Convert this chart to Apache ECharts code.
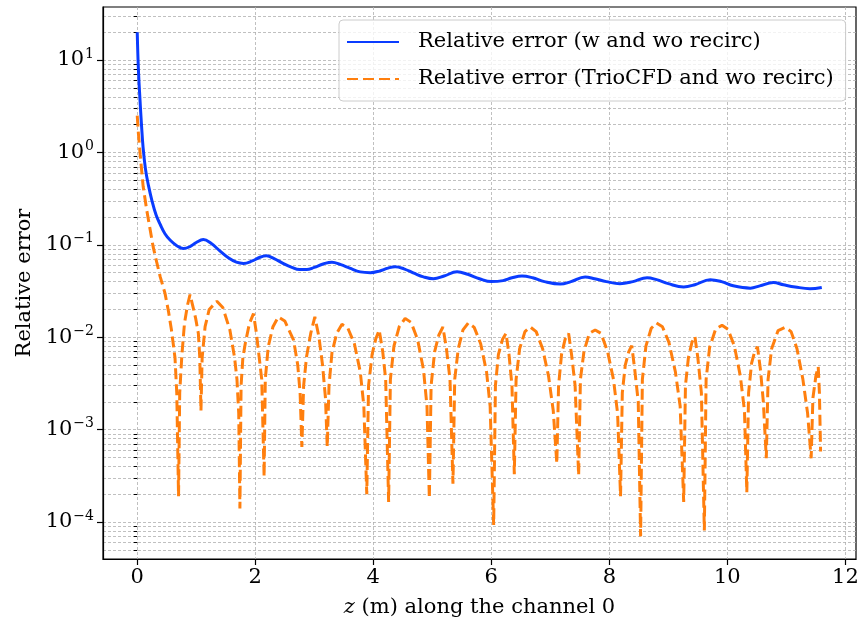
<!DOCTYPE html>
<html>
<head>
    <meta charset="utf-8" />
    <title>Relative error</title>
    <script src="https://cdn.jsdelivr.net/npm/echarts@6/dist/echarts.min.js"></script>
    <style>
        html, body { margin: 0; padding: 0; background: #fff; }
        #main { width: 860px; height: 631px; }
    </style>
</head>
<body>
    <div id="main"></div>
    <script type="text/javascript">
        // [z (m), relative error]
        var blueCurve = [
            [0, 20], [0.02, 7.9], [0.047, 3.7], [0.07, 2.1], [0.10, 1.12], [0.14, 0.66], [0.19, 0.44],
            [0.25, 0.30], [0.32, 0.21], [0.39, 0.166], [0.47, 0.132], [0.56, 0.112], [0.67, 0.098],
            [0.78, 0.091], [0.9, 0.096], [1.0, 0.106], [1.12, 0.114],
            [1.25, 0.104], [1.4, 0.086], [1.55, 0.072], [1.68, 0.065], [1.8, 0.063], [1.95, 0.067],
            [2.07, 0.073], [2.19, 0.076], [2.32, 0.071], [2.47, 0.063], [2.62, 0.057], [2.75, 0.054],
            [2.87, 0.054], [3.0, 0.057], [3.15, 0.062], [3.3, 0.065], [3.45, 0.061], [3.6, 0.056],
            [3.78, 0.051], [3.95, 0.05], [4.1, 0.052], [4.25, 0.056], [4.37, 0.058], [4.52, 0.055],
            [4.7, 0.049], [4.85, 0.045], [5.02, 0.043], [5.2, 0.046], [5.42, 0.051], [5.6, 0.048],
            [5.8, 0.043], [6.0, 0.040], [6.2, 0.041], [6.35, 0.044], [6.52, 0.046], [6.7, 0.044],
            [6.9, 0.040], [7.17, 0.0376], [7.35, 0.040], [7.59, 0.045], [7.75, 0.043], [7.95, 0.040],
            [8.18, 0.038], [8.4, 0.040], [8.64, 0.044], [8.8, 0.042], [9.0, 0.038], [9.26, 0.035],
            [9.45, 0.037], [9.71, 0.042], [9.9, 0.040], [10.1, 0.036], [10.39, 0.034], [10.55, 0.036],
            [10.78, 0.039], [10.95, 0.037], [11.15, 0.035], [11.40, 0.0335], [11.6, 0.0346]
        ];
        var orangeCurve = [
            [0, 2.5], [0.02, 1.6], [0.05, 0.95], [0.1, 0.43], [0.16, 0.24], [0.22, 0.145], [0.27, 0.095],
            [0.33, 0.065], [0.39, 0.045], [0.47, 0.03], [0.53, 0.019], [0.58, 0.012], [0.64, 0.006],
            [0.67, 0.0025], [0.70, 0.00019],
            [0.72, 0.0025], [0.755, 0.0062], [0.80, 0.014], [0.85, 0.022], [0.895, 0.029], [0.94, 0.022],
            [0.99, 0.016], [1.036, 0.011], [1.06, 0.006], [1.08, 0.0016],
            [1.10, 0.006], [1.15, 0.013], [1.22, 0.02], [1.35, 0.0245], [1.45, 0.021], [1.57, 0.012],
            [1.65, 0.006], [1.69, 0.0035], [1.72, 0.0015], [1.74, 0.00014],
            [1.76, 0.003], [1.79, 0.006], [1.83, 0.0085], [1.9, 0.014], [1.97, 0.018], [2.02, 0.011],
            [2.06, 0.0066], [2.11, 0.0035], [2.15, 0.00031],
            [2.17, 0.0035], [2.22, 0.0079], [2.3, 0.013], [2.39, 0.0166], [2.5, 0.015], [2.65, 0.0093],
            [2.72, 0.005], [2.76, 0.0025], [2.79, 0.00065],
            [2.82, 0.003], [2.87, 0.0062], [2.94, 0.011], [3.01, 0.0166], [3.08, 0.01], [3.14, 0.005],
            [3.19, 0.0022], [3.22, 0.00065],
            [3.25, 0.003], [3.3, 0.0068], [3.38, 0.011], [3.47, 0.0138], [3.57, 0.0125], [3.68, 0.0085],
            [3.78, 0.0042], [3.84, 0.0018], [3.89, 0.0002],
            [3.92, 0.003], [3.98, 0.0065], [4.04, 0.0095], [4.10, 0.012], [4.16, 0.007], [4.21, 0.0035],
            [4.26, 0.000165],
            [4.29, 0.0035], [4.35, 0.008], [4.44, 0.013], [4.54, 0.016], [4.64, 0.0145], [4.75, 0.0095],
            [4.85, 0.0045], [4.91, 0.0018], [4.95, 0.00018],
            [4.98, 0.003], [5.04, 0.007], [5.11, 0.0105], [5.18, 0.0129], [5.24, 0.0075], [5.30, 0.0035],
            [5.35, 0.00026],
            [5.38, 0.0035], [5.44, 0.0075], [5.52, 0.012], [5.61, 0.0143], [5.71, 0.0128], [5.82, 0.0085],
            [5.92, 0.0042], [5.98, 0.0018], [6.04, 0.000093],
            [6.07, 0.003], [6.12, 0.0065], [6.19, 0.0095], [6.25, 0.011], [6.30, 0.0065], [6.35, 0.003],
            [6.39, 0.00033],
            [6.42, 0.0035], [6.48, 0.0075], [6.57, 0.0115], [6.66, 0.0129], [6.76, 0.0115], [6.87, 0.0075],
            [6.97, 0.0038], [7.05, 0.0016], [7.11, 0.00043],
            [7.14, 0.003], [7.19, 0.0065], [7.25, 0.0095], [7.31, 0.011], [7.36, 0.0065], [7.42, 0.003],
            [7.48, 0.00032],
            [7.51, 0.0035], [7.57, 0.007], [7.66, 0.011], [7.76, 0.012], [7.86, 0.011], [7.97, 0.007],
            [8.07, 0.0035], [8.14, 0.0015], [8.19, 0.00019],
            [8.22, 0.0025], [8.27, 0.005], [8.33, 0.007], [8.38, 0.0081], [8.43, 0.0045], [8.49, 0.002],
            [8.53, 0.00007],
            [8.56, 0.0035], [8.62, 0.008], [8.71, 0.0125], [8.80, 0.0143], [8.90, 0.013], [9.01, 0.0088],
            [9.12, 0.0042], [9.20, 0.0018], [9.26, 0.000165],
            [9.29, 0.003], [9.34, 0.006], [9.40, 0.0088], [9.45, 0.0102], [9.50, 0.006], [9.56, 0.0025],
            [9.61, 0.000081],
            [9.64, 0.0035], [9.70, 0.0078], [9.80, 0.0122], [9.91, 0.0135], [10.01, 0.0122], [10.12, 0.008],
            [10.22, 0.0038], [10.29, 0.0016], [10.33, 0.00021],
            [10.36, 0.0025], [10.41, 0.0052], [10.46, 0.0069], [10.51, 0.0079], [10.56, 0.0045], [10.61, 0.002],
            [10.66, 0.00049],
            [10.69, 0.0035], [10.75, 0.0075], [10.86, 0.0118], [10.98, 0.0128], [11.08, 0.0115], [11.18, 0.0075],
            [11.28, 0.0035], [11.36, 0.0015], [11.42, 0.00049],
            [11.45, 0.0022], [11.50, 0.0038], [11.54, 0.0048], [11.56, 0.0025], [11.58, 0.00058]
        ];
        var seriesNames = ['Relative error (w and wo recirc)', 'Relative error (TrioCFD and wo recirc)'];
        var xTicks = [0, 2, 4, 6, 8, 10, 12];
        var yDecades = [-4, -3, -2, -1, 0, 1];

        var FONT = 'DejaVu Serif';
        var FS = 21;
        var yMin = -4.40, yMax = 1.574;

        // log10 of the minor ticks 2..9 x 10^n inside the range
        var yMinor = [];
        for (var e = -5; e <= 1; e++) {
            for (var k = 2; k <= 9; k++) {
                var lv = Math.log10(k * Math.pow(10, e));
                if (lv > yMin && lv < yMax) yMinor.push(lv);
            }
        }
        function toLog(arr) {
            return arr.map(function (p) { return [p[0], Math.log10(p[1])]; });
        }
        var gridLine = { show: true, lineStyle: { color: '#b0b0b0', width: 0.8, type: [3, 2] } };

        var myChart = echarts.init(document.getElementById('main'));
        var option = {
            animation: false,
            grid: {
                left: 103, right: 4, top: 7, bottom: 72,
                containLabel: false, outerBoundsMode: 'none',
                show: true, borderColor: '#000', borderWidth: 1.2, backgroundColor: 'transparent'
            },
            legend: {
                left: 339, top: 20, orient: 'vertical',
                padding: [9, 12, 9, 7], itemGap: 11,
                itemWidth: 52, itemHeight: 14,
                itemStyle: { opacity: 0 },
                backgroundColor: 'rgba(255,255,255,0.8)',
                borderColor: '#cccccc', borderWidth: 1, borderRadius: 4,
                textStyle: { fontFamily: FONT, fontSize: FS, color: '#000', lineHeight: 26, padding: [0, 0, 0, 14] },
                data: seriesNames
            },
            xAxis: {
                type: 'value', min: -0.58, max: 12.18,
                axisLine: { show: true, onZero: false, lineStyle: { color: '#000', width: 1.2 } },
                axisTick: { show: true, customValues: xTicks, length: 6, lineStyle: { color: '#000', width: 1.2 } },
                axisLabel: { customValues: xTicks, margin: 8, fontFamily: FONT, fontSize: FS, color: '#000' },
                splitLine: gridLine,
                name: '{i|z} (m) along the channel 0',
                nameLocation: 'middle', nameGap: 38,
                nameTextStyle: {
                    fontFamily: FONT, fontSize: FS, color: '#000',
                    rich: { i: { fontFamily: FONT, fontSize: FS, fontStyle: 'italic', color: '#000' } }
                }
            },
            yAxis: [
                {
                    type: 'value', min: yMin, max: yMax,
                    axisLine: { show: true, onZero: false, lineStyle: { color: '#000', width: 1.2 } },
                    axisTick: { show: true, customValues: yDecades, length: 6, lineStyle: { color: '#000', width: 1.2 } },
                    axisLabel: {
                        customValues: yDecades, margin: 9,
                        formatter: function (v) {
                            var s = v < 0 ? '\u2212' + (-v) : String(v);
                            return '{b|10}{s|' + s + '}';
                        },
                        rich: {
                            b: { fontFamily: FONT, fontSize: FS, color: '#000' },
                            s: { fontFamily: FONT, fontSize: 14, color: '#000', padding: [0, 0, 12, 1] }
                        }
                    },
                    splitLine: gridLine,
                    name: 'Relative error', nameLocation: 'middle', nameGap: 68, nameRotate: 90,
                    nameTextStyle: { fontFamily: FONT, fontSize: FS, color: '#000' }
                },
                {
                    type: 'value', min: yMin, max: yMax, position: 'left',
                    axisLine: { show: false },
                    axisTick: { show: true, customValues: yMinor, length: 3.5, lineStyle: { color: '#000', width: 1 } },
                    axisLabel: { show: false },
                    splitLine: gridLine
                }
            ],
            series: [
                {
                    name: seriesNames[0], type: 'line', yAxisIndex: 0,
                    data: toLog(blueCurve), showSymbol: false, symbol: 'none',
                    smooth: 0.4,
                    lineStyle: { color: '#0a3cff', width: 3 },
                    itemStyle: { color: '#0a3cff' }, z: 3
                },
                {
                    name: seriesNames[1], type: 'line', yAxisIndex: 0,
                    data: toLog(orangeCurve), showSymbol: false, symbol: 'none',
                    lineStyle: { color: '#ff7f0e', width: 3, type: [11, 5] },
                    itemStyle: { color: '#ff7f0e' }, z: 2
                }
            ]
        };
        myChart.setOption(option);
    </script>
</body>
</html>
